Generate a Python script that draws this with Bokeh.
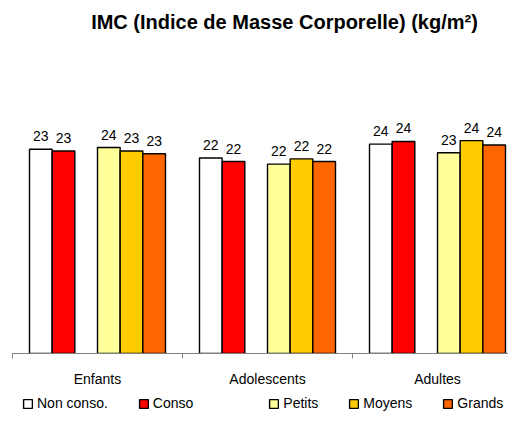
from bokeh.plotting import figure
from bokeh.layouts import column
from bokeh.models import (Range1d, FixedTicker, Legend, LegendItem, Label,
                          LinearAxis, ColumnDataSource)
from bokeh.embed import file_html
from bokeh.resources import INLINE
from bokeh.core.properties import value

# ---- data ----
chart_title = "IMC (Indice de Masse Corporelle) (kg/m²)"
groups = ["Enfants", "Adolescents", "Adultes"]
series_names = ["Non conso.", "Conso", "Petits", "Moyens", "Grands"]
non_conso = [23.4, 22.4, 24.0]
conso = [23.2, 22.0, 24.3]
petits = [23.6, 21.7, 23.0]
moyens = [23.2, 22.3, 24.4]
grands = [22.9, 22.0, 23.9]
y_max = 30

# ---- style ----
FONT = "Liberation Sans"
TXT = "14px"
colors = ["#FFFFFF", "#FF0000", "#FFFF99", "#FFCC00", "#FF6600"]
slots = [0, 1, 3, 4, 5]          # empty slot 2 between the two sub-groups
n_slots, gap = 6, 1.5
w = 1.0 / (n_slots + gap)
GROUP_PX = 170
PX_PER_UNIT = 8.8
FRAME_H = 356
MAIN_H = 389
LEG_H = 28

p = figure(width=508, height=MAIN_H, output_backend="svg", toolbar_location=None,
           x_range=Range1d(0, 496 / GROUP_PX),
           y_range=Range1d(0, FRAME_H / PX_PER_UNIT),
           x_axis_type=None, y_axis_type=None,
           min_border_left=12, min_border_right=0,
           min_border_top=0, min_border_bottom=MAIN_H - FRAME_H)
p.outline_line_color = None
p.background_fill_color = "white"
p.border_fill_color = "white"

series = [non_conso, conso, petits, moyens, grands]
for name, vals, col, slot in zip(series_names, series, colors, slots):
    xs = [i + gap / 2 * w + (slot + 0.5) * w for i in range(len(groups))]
    src = ColumnDataSource(dict(x=xs, y=vals, lab=[str(int(round(v))) for v in vals]))
    p.vbar(x="x", top="y", width=w, bottom=0, source=src,
           fill_color=col, line_color="black", line_width=1.4)
    p.text(x="x", y="y", text="lab", source=src, text_align="center",
           text_baseline="middle", y_offset=-13, text_font=value(FONT),
           text_font_size=TXT, text_color="black")

xaxis = LinearAxis(ticker=FixedTicker(ticks=[i + 0.5 for i in range(len(groups))],
                                      minor_ticks=list(range(len(groups) + 1))),
                   major_label_overrides={i + 0.5: g for i, g in enumerate(groups)},
                   major_tick_line_color=None, major_tick_out=0, major_tick_in=0,
                   minor_tick_out=5, minor_tick_in=0, minor_tick_line_color="#808080",
                   axis_line_color="#808080", major_label_standoff=12,
                   major_label_text_font=FONT, major_label_text_font_size=TXT,
                   major_label_text_color="black")
p.add_layout(xaxis, "below")

p.add_layout(Label(x=272, y=FRAME_H - 24, x_units="screen", y_units="screen",
                   text=chart_title, text_align="center", text_baseline="middle",
                   text_font=FONT, text_font_style="bold", text_font_size="20px",
                   text_color="black"))

# ---- legend strip (separate small figure so nothing is clipped) ----
lf = figure(width=508, height=LEG_H, output_backend="svg", toolbar_location=None,
            x_range=Range1d(0, 1), y_range=Range1d(0, 1),
            x_axis_type=None, y_axis_type=None,
            min_border_left=0, min_border_right=0, min_border_top=0, min_border_bottom=0)
lf.outline_line_color = None
lf.background_fill_color = "white"
lf.border_fill_color = "white"

# legend-only renderers, hidden under a white cover
leg_r = []
for col in colors:
    leg_r.append(lf.vbar(x=[0.5], top=[0.5], bottom=[0.4], width=0.01, fill_color=col,
                         line_color="black", line_width=1.4))
spacer = lf.vbar(x=[0.5], top=[0.5], bottom=[0.4], width=0.01, fill_alpha=0, line_alpha=0)
lf.quad(left=[-1], right=[2], bottom=[-1], top=[2], fill_color="white", line_color=None)

items = [LegendItem(label=series_names[0], renderers=[leg_r[0]]),
         LegendItem(label=series_names[1], renderers=[leg_r[1]]),
         LegendItem(label=" ", renderers=[spacer]),
         LegendItem(label=series_names[2], renderers=[leg_r[2]]),
         LegendItem(label=series_names[3], renderers=[leg_r[3]]),
         LegendItem(label=series_names[4], renderers=[leg_r[4]])]
legend = Legend(items=items, orientation="horizontal", location=(10, 6),
                glyph_width=11, glyph_height=11, label_standoff=4, spacing=30,
                padding=0, margin=0, label_height=16, label_width=0,
                border_line_color=None, background_fill_alpha=0,
                label_text_font=FONT, label_text_font_size=TXT,
                label_text_color="black")
lf.add_layout(legend, "center")

lay = column(p, lf, spacing=0)
open("out.html", "w").write(file_html(lay, INLINE))
